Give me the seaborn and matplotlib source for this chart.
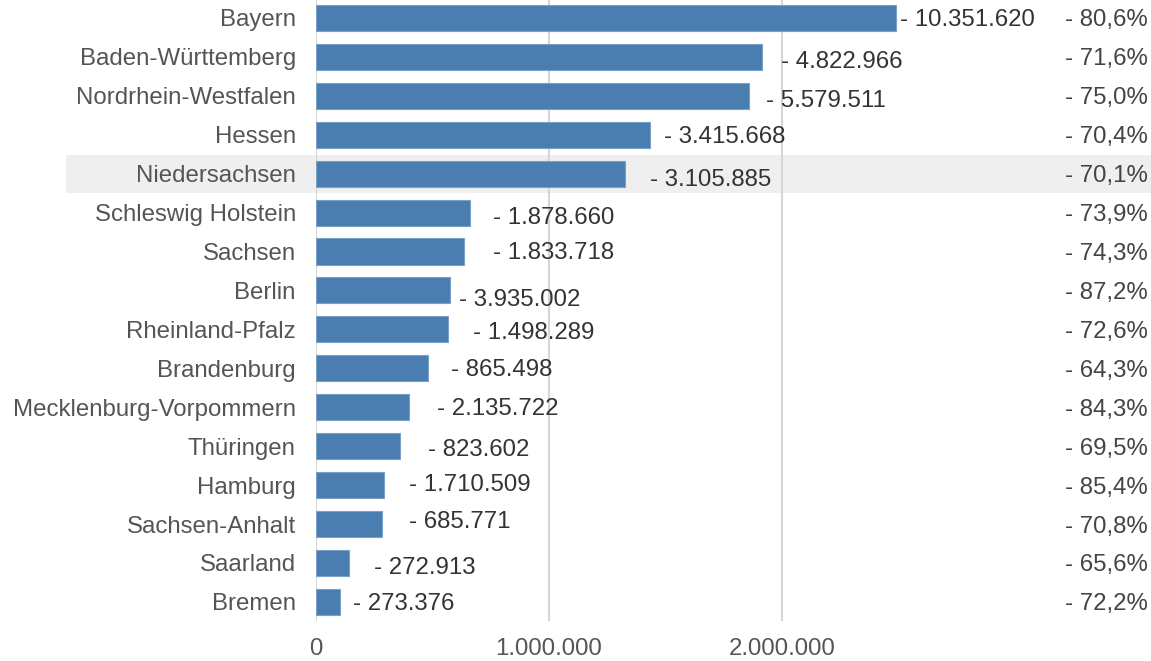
import matplotlib
matplotlib.use("Agg")
import matplotlib.pyplot as plt
import seaborn as sns
import pandas as pd

states = ["Bayern", "Baden-Württemberg", "Nordrhein-Westfalen", "Hessen",
          "Niedersachsen", "Schleswig Holstein", "Sachsen", "Berlin",
          "Rheinland-Pfalz", "Brandenburg", "Mecklenburg-Vorpommern",
          "Thüringen", "Hamburg", "Sachsen-Anhalt", "Saarland", "Bremen"]
bar_values = [2489000, 1914000, 1858000, 1433000, 1326000, 661000, 635000,
              575000, 567000, 481000, 399000, 361000, 292000, 283000,
              142000, 103000]
value_labels = ["10.351.620", "4.822.966", "5.579.511", "3.415.668",
                "3.105.885", "1.878.660", "1.833.718", "3.935.002",
                "1.498.289", "865.498", "2.135.722", "823.602",
                "1.710.509", "685.771", "272.913", "273.376"]
pct_labels = ["80,6%", "71,6%", "75,0%", "70,4%", "70,1%", "73,9%",
              "74,3%", "87,2%", "72,6%", "64,3%", "84,3%", "69,5%",
              "85,4%", "70,8%", "65,6%", "72,2%"]
highlight = "Niedersachsen"

# label nudges in pixels (dx right, dy down), as placed in the original
label_dx = [4, 19, 17, 14, 25, 23, 29, 9, 25, 23, 28, 28, 25, 27, 25, 13]
label_dy = [0, 3, 3, 0, 4, 3, -1, 7, 1, -1, -1, 1, -3, -5, 3, 0]

df = pd.DataFrame({"state": states, "value": bar_values})

sns.set_style("white")
plt.rcParams["font.family"] = ["Liberation Sans", "DejaVu Sans"]

fig = plt.figure(figsize=(11.51, 6.61), dpi=100)
ax = fig.add_axes([316 / 1151, 1 - 621 / 661, 835 / 1151, 621 / 661])

sns.barplot(data=df, x="value", y="state", orient="h", color="#4a7db0",
            saturation=1, width=0.67, edgecolor="#7aa2c8", linewidth=0.8,
            ax=ax, zorder=3)

ax.set_xlim(0, 835 / 233 * 1e6)
ax.set_ylim(15.49, -0.46)

idx = states.index(highlight)
ax.axhspan(idx - 0.49, idx + 0.49, xmin=(66 - 316) / 835, xmax=1,
           color="#efefef", clip_on=False, zorder=0, lw=0)

for x in [0, 1e6, 2e6]:
    ax.axvline(x, color="#d6d6d6", lw=1.5, zorder=1)

ax.set_xticks([0, 1e6, 2e6])
ax.set_xticklabels(["0", "1.000.000", "2.000.000"])
ax.tick_params(axis="x", length=0, pad=12, labelsize=17.3, labelcolor="#555555")
ax.tick_params(axis="y", length=0, pad=14.5, labelsize=17.3, labelcolor="#555555")
ax.set_xlabel("")
ax.set_ylabel("")
for s in ax.spines.values():
    s.set_visible(False)

for i, (v, lab) in enumerate(zip(bar_values, value_labels)):
    ax.annotate("- " + lab, xy=(v, i),
                xytext=(label_dx[i] * 0.72, -label_dy[i] * 0.72),
                textcoords="offset points", ha="left", va="center_baseline",
                fontsize=17.3, color="#333333", zorder=4)
    ax.text(1148 / 835 - 316 / 835, i, "- " + pct_labels[i],
            transform=ax.get_yaxis_transform(), ha="right",
            va="center_baseline", fontsize=17.3, color="#444444", zorder=4)

fig.savefig("out.png", dpi=100)
